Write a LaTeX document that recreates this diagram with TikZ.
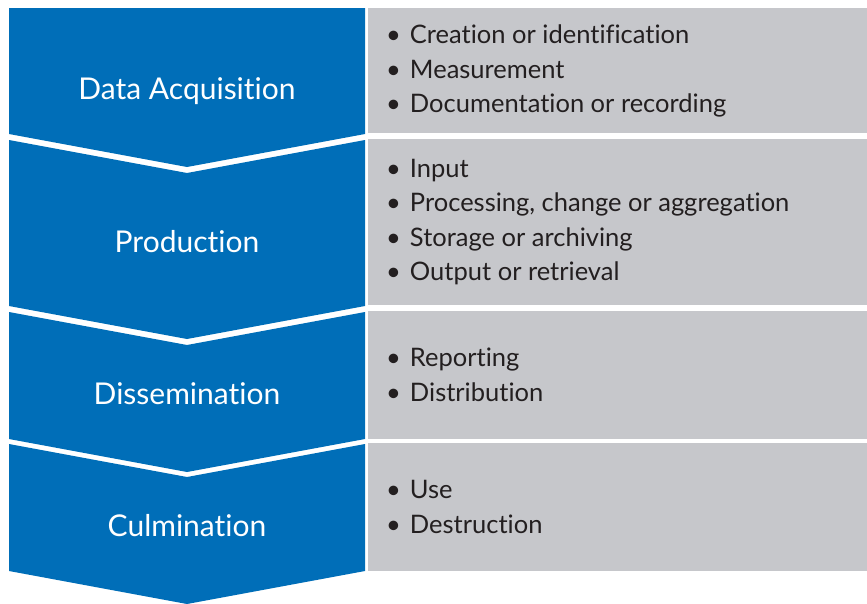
\documentclass[tikz,border=0pt]{standalone}
\usepackage{fontspec}
\setmainfont[Ligatures={NoCommon}]{Lato}
\usepackage{tikz}
\definecolor{stageblue}{RGB}{0,110,184}
\definecolor{listgray}{RGB}{198,199,203}
\definecolor{listtext}{RGB}{35,31,32}

\begin{document}
\begin{tikzpicture}[x=1pt,y=-1pt,
    stage/.style={fill=stageblue,draw=none},
    box/.style={fill=listgray,draw=none},
    stagelabel/.style={text=white,font=\fontsize{30}{36}\selectfont},
    itemlist/.style={anchor=west,align=left,text=listtext,inner sep=0pt,
        font=\fontsize{25.5}{34.5}\selectfont}]
    \useasboundingbox (0,0) rectangle (867,603);

    % left column corners
    \coordinate (L1) at (9,8);     \coordinate (R1) at (365,8);
    \coordinate (L2) at (9,140);   \coordinate (R2) at (365,140);
    \coordinate (L3) at (9,312);   \coordinate (R3) at (365,312);
    \coordinate (L4) at (9,444);   \coordinate (R4) at (365,444);

    \fill[stage] (L1) -- (R1) -- (365,134) -- (187,167) -- (9,134) -- cycle; % data acquisition
    \fill[stage] (L2) -- (187,173) -- (R2) -- (365,306) -- (187,339) -- (9,306) -- cycle; % production
    \fill[stage] (L3) -- (187,345) -- (R3) -- (365,439) -- (187,472) -- (9,439) -- cycle; % dissemination
    \fill[stage] (L4) -- (187,477) -- (R4) -- (365,571) -- (187,604) -- (9,571) -- cycle; % culmination

    % right column
    \fill[box] (368,8) rectangle (867,133);
    \fill[box] (368,139) rectangle (867,305);
    \fill[box] (368,311) rectangle (867,439);
    \fill[box] (368,443) rectangle (867,571);

    \node[stagelabel] (acq) at (187,91) {Data Acquisition};
    \node[stagelabel] (prod) at (187,242) {Production};
    \node[stagelabel] (diss) at (187,394) {Dissemination};
    \node[stagelabel] (culm) at (187,526) {Culmination};

    \node[itemlist] (acqlist) at (386,71) {\textbullet\hspace{9pt}Creation or identification\\
        \textbullet\hspace{9pt}Measurement\\ \textbullet\hspace{9pt}Documentation or recording};
    \node[itemlist] (prodlist) at (386,222) {\textbullet\hspace{9pt}Input\\
        \textbullet\hspace{9pt}Processing, change or aggregation\\
        \textbullet\hspace{9pt}Storage or archiving\\ \textbullet\hspace{9pt}Output or retrieval};
    \node[itemlist] (disslist) at (386,375) {\textbullet\hspace{9pt}Reporting\\ \textbullet\hspace{9pt}Distribution};
    \node[itemlist] (culmlist) at (386,507) {\textbullet\hspace{9pt}Use\\ \textbullet\hspace{9pt}Destruction};
\end{tikzpicture}
\end{document}
